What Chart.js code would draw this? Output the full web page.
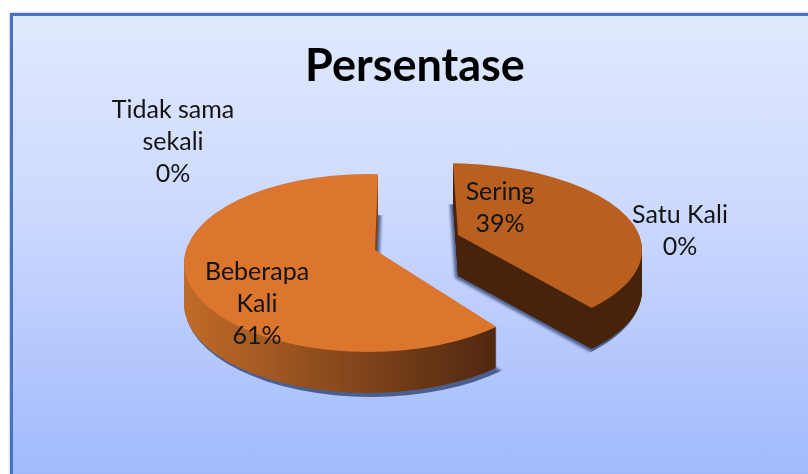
<!DOCTYPE html>
<html>
<head>
<meta charset="utf-8">
<title>Persentase</title>
<script src="https://cdn.jsdelivr.net/npm/chart.js@4"></script>
<style>
	html, body { margin: 0; padding: 0; background: #fff; overflow: hidden; }
	#wrap { position: relative; width: 808px; height: 474px; overflow: hidden; }
	#frame {
		position: absolute; left: 10px; top: 13px; width: 820px; height: 480px;
		border: 3px solid #4472c4; box-sizing: border-box;
		background: linear-gradient(#e1e9fe, #cddafe 40%, #9fb8fc);
		box-shadow: 0 0 2px #999;
	}
	canvas { position: absolute; left: 0; top: 0; }
</style>
</head>
<body>
<div id="wrap">
	<div id="frame"></div>
	<canvas id="pieChart" width="808" height="474"></canvas>
</div>
<script>
var chartTitle = 'Persentase';
var categories = ['Sering', 'Satu Kali', 'Beberapa Kali', 'Tidak sama sekali'];
var percentages = [39, 0, 61, 0];

// wrapped label text, one entry per category
var labelLines = [['Sering'], ['Satu Kali'], ['Beberapa', 'Kali'], ['Tidak sama', 'sekali']];
var labelCenters = [[500, 192], [680, 215], [257, 272], [173, 110]];
var labelLineHeight = 32;

// how each slice is laid in the fake 3D view
var wallDepth = 41;
var sliceViews = [
	{ apex: [458, 235], rim: [445, 250, 197, 87], ratio: 2.13, skew: 0.07, top: '#b96020', wall: ['#47230c', '#47230c'], wallX: [458, 642], shadow: [-3, 2] },
	null,
	{ apex: [375, 250], rim: [368, 263, 184, 89], ratio: 1.96, skew: -0.04, top: '#dc752d', wall: ['#c16b28', '#502810'], wallX: [186, 497], shadow: [3, 2] },
	null
];

function drawSlice(ctx, arc, view, dy, fill, rimGrow, shift) {
	var scaleY = 130 / arc.outerRadius;
	var scaleX = scaleY * view.ratio;
	var saved = arc.options;
	ctx.save();
	ctx.beginPath();
	ctx.ellipse(view.rim[0] + shift[0], view.rim[1] + dy + shift[1], view.rim[2] + rimGrow, view.rim[3] + rimGrow, 0, 0, Math.PI * 2);
	ctx.clip();
	ctx.translate(view.apex[0] + shift[0], view.apex[1] + dy + shift[1]);
	ctx.transform(1, 0, view.skew, 1, 0, 0);
	ctx.scale(scaleX, scaleY);
	ctx.translate(-arc.x, -arc.y);
	arc.options = Object.assign({}, saved, { backgroundColor: fill, borderWidth: 0 });
	arc.draw(ctx);
	arc.options = saved;
	ctx.restore();
}

function wallFill(ctx, arc, view) {
	var scaleX = 130 / arc.outerRadius * view.ratio;
	var x0 = arc.x + (view.wallX[0] - view.apex[0]) / scaleX;
	var x1 = arc.x + (view.wallX[1] - view.apex[0]) / scaleX;
	var g = ctx.createLinearGradient(x0, 0, x1, 0);
	g.addColorStop(0, view.wall[0]);
	g.addColorStop(1, view.wall[1]);
	return g;
}

var pie3d = {
	id: 'pie3d',
	beforeDatasetsDraw: function(chart) {
		var ctx = chart.ctx;
		var arcs = chart.getDatasetMeta(0).data;
		arcs.forEach(function(arc, i) {
			var view = sliceViews[i];
			if (!view) return;
			ctx.save();
			ctx.filter = 'blur(1.5px)';
			drawSlice(ctx, arc, view, wallDepth, 'rgba(40,60,105,0.75)', 2, view.shadow);
			ctx.restore();
		});
		arcs.forEach(function(arc, i) {
			var view = sliceViews[i];
			if (!view) return;
			var fill = wallFill(ctx, arc, view);
			for (var dy = wallDepth; dy > 0; dy--) {
				drawSlice(ctx, arc, view, dy, fill, 0, [0, 0]);
			}
			drawSlice(ctx, arc, view, 0, view.top, 0, [0, 0]);
		});
		return false;
	},
	afterDraw: function(chart) {
		var ctx = chart.ctx;
		ctx.save();
		ctx.font = '25px Lato';
		ctx.fillStyle = '#141414';
		ctx.textAlign = 'center';
		ctx.textBaseline = 'middle';
		categories.forEach(function(name, i) {
			var lines = labelLines[i].concat(percentages[i] + '%');
			lines.forEach(function(line, n) {
				ctx.fillText(line, labelCenters[i][0], labelCenters[i][1] + n * labelLineHeight);
			});
		});
		ctx.restore();
	}
};

new Chart(document.getElementById('pieChart'), {
	type: 'pie',
	data: {
		labels: categories,
		datasets: [{
			data: percentages,
			backgroundColor: ['#b96020', '#b96020', '#dc752d', '#dc752d'],
			borderWidth: 0
		}]
	},
	options: {
		responsive: false,
		animation: false,
		layout: { padding: { left: 22 } },
		plugins: {
			legend: { display: false },
			tooltip: { enabled: false },
			title: {
				display: true,
				text: chartTitle,
				color: '#000',
				font: { family: 'Lato', size: 45, weight: 'bold' },
				padding: { top: 39, bottom: 0 }
			}
		}
	},
	plugins: [pie3d]
});
</script>
</body>
</html>
